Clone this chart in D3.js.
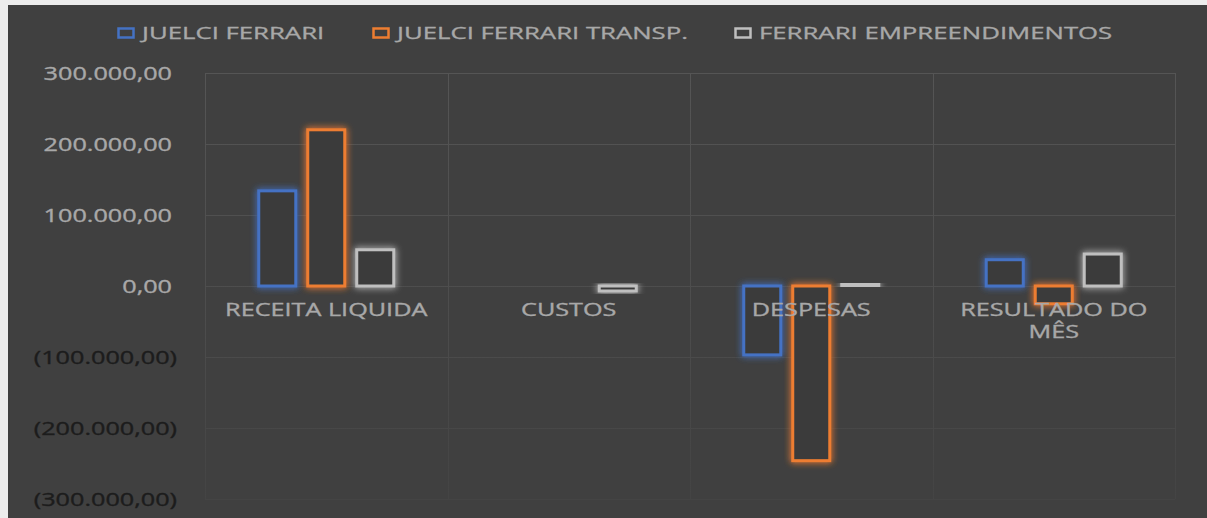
<!DOCTYPE html>
<html><head><meta charset="utf-8">
<script src="https://cdn.jsdelivr.net/npm/d3@7"></script>
<style>html,body{margin:0;padding:0;background:#ececec;}svg{display:block;}</style>
</head><body>
<svg id="chart" width="1207" height="518"></svg>
<script>
const categories = ["RECEITA LIQUIDA", "CUSTOS", "DESPESAS", "RESULTADO DO MÊS"];
const seriesNames = ["JUELCI FERRARI", "JUELCI FERRARI TRANSP.", "FERRARI EMPREENDIMENTOS"];
const juelciFerrari = [134000, 0, -97000, 37000];
const juelciTransp = [220000, 0, -246000, -25000];
const ferrariEmpreend = [51000, -7000, 2500, 45000];
const yTicks = [300000, 200000, 100000, 0, -100000, -200000, -300000];
const seriesValues = [juelciFerrari, juelciTransp, ferrariEmpreend];
const colors = ["#4472c4", "#ed7d31", "#bfbfbf"];

const W = 1207, H = 518;
const svg = d3.select("#chart");
const textColor = "#a8a8a8";
const negColor = "#1c1c1c";
const SX = 1.4, SXL = 1.56;
const fontFam = "'Open Sans', 'Noto Sans', sans-serif";

const defs = svg.append("defs");
const f = defs.append("filter").attr("id","glow").attr("x","-50%").attr("y","-50%").attr("width","200%").attr("height","200%");
f.append("feGaussianBlur").attr("in","SourceGraphic").attr("stdDeviation",3.5).attr("result","b");
f.append("feComponentTransfer").attr("in","b").attr("result","b2")
  .append("feFuncA").attr("type","linear").attr("slope",1.4);
const fm = f.append("feMerge");
fm.append("feMergeNode").attr("in","b2");
fm.append("feMergeNode").attr("in","SourceGraphic");
const grad = defs.append("linearGradient").attr("id","gridGrad").attr("gradientUnits","userSpaceOnUse")
  .attr("x1",0).attr("y1",73).attr("x2",0).attr("y2",499);
grad.append("stop").attr("offset","0%").attr("stop-color","#555555");
grad.append("stop").attr("offset","60%").attr("stop-color","#4c4c4c");
grad.append("stop").attr("offset","100%").attr("stop-color","#444444");

svg.append("rect").attr("width",W).attr("height",H).attr("fill","#ededed");
svg.append("rect").attr("x",8).attr("y",5).attr("width",W-8).attr("height",H-5).attr("fill","#404040");

const x0 = d3.scaleBand().domain(categories).range([205, 1175]).paddingInner(0).paddingOuter(0);
const x1 = d3.scaleBand().domain(d3.range(3)).range([0, x0.bandwidth()]).paddingInner(0.245).paddingOuter(1.097);
const y = d3.scaleLinear().domain([-300000, 300000]).range([499, 73]);

const loc = d3.formatLocale({decimal: ",", thousands: ".", grouping: [3], currency: ["", ""]});
const fmt = loc.format(",.2f");
const label = v => v < 0 ? "(" + fmt(-v) + ")" : fmt(v);

function stretch(sel, k) {
  sel.each(function(){ const w = this.getComputedTextLength(); d3.select(this).attr("textLength", w*k).attr("lengthAdjust","spacingAndGlyphs"); });
}

// gridlines
const grid = svg.append("g").attr("stroke","url(#gridGrad)").attr("stroke-width",1).attr("shape-rendering","crispEdges");
grid.selectAll("line.h").data(yTicks).join("line").attr("class","h")
  .attr("x1",205).attr("x2",1175).attr("y1",d=>Math.round(y(d))+0.5).attr("y2",d=>Math.round(y(d))+0.5);
const bounds = categories.map(c=>x0(c)).concat([x0.range()[1]]);
grid.selectAll("line.v").data(bounds).join("line").attr("class","v")
  .attr("x1",d=>Math.round(d)+0.5).attr("x2",d=>Math.round(d)+0.5).attr("y1",y(300000)).attr("y2",y(-300000));

// y axis labels
const yl = svg.append("g").attr("font-family",fontFam).attr("font-size",18).attr("stroke-width",0.35);
yl.selectAll("text").data(yTicks).join("text")
  .attr("x", d => d < 0 ? 177 : 172).attr("y", d => y(d) + 7)
  .attr("fill", d => d < 0 ? negColor : textColor).attr("stroke", d => d < 0 ? negColor : textColor)
  .attr("text-anchor","end").text(label).call(stretch, SX);

// bars
const groups = svg.append("g").selectAll("g").data(categories).join("g")
  .attr("transform", c => `translate(${x0(c)},0)`);
groups.selectAll("rect").data((c, ci) => seriesValues.map((s, si) => ({si, v: s[ci]})).filter(d => d.v !== 0)).join("rect")
  .attr("x", d => x1(d.si)).attr("width", x1.bandwidth())
  .attr("y", d => y(Math.max(0, d.v))).attr("height", d => Math.abs(y(d.v) - y(0)))
  .attr("fill", "#3b3b3b").attr("stroke", d => colors[d.si]).attr("stroke-width", 3)
  .attr("filter","url(#glow)");

// category labels
const cl = svg.append("g").attr("font-family",fontFam).attr("font-size",18).attr("fill",textColor)
  .attr("stroke",textColor).attr("stroke-width",0.35).attr("text-anchor","middle");
categories.forEach(c => {
  const cx = x0(c) + x0.bandwidth()/2;
  const lines = c === "RESULTADO DO MÊS" ? ["RESULTADO DO", "MÊS"] : [c];
  lines.forEach((t, i) => {
    cl.append("text").attr("x", cx).attr("y", 316 + i*22).text(t).call(stretch, SX);
  });
});

// legend
const legX = [117, 372, 734];
const lg = svg.append("g").attr("font-family",fontFam).attr("font-size",16.5).attr("fill",textColor);
seriesNames.forEach((n, i) => {
  lg.append("rect").attr("x", legX[i]+1.5).attr("y", 28.5).attr("width", 15).attr("height", 9)
    .attr("fill","none").attr("stroke", colors[i]).attr("stroke-width", 2.5);
  lg.append("text").attr("x", legX[i] + 25).attr("y", 38.5).attr("stroke",textColor).attr("stroke-width",0.3)
    .text(n).call(stretch, SXL);
});
</script>
</body></html>
